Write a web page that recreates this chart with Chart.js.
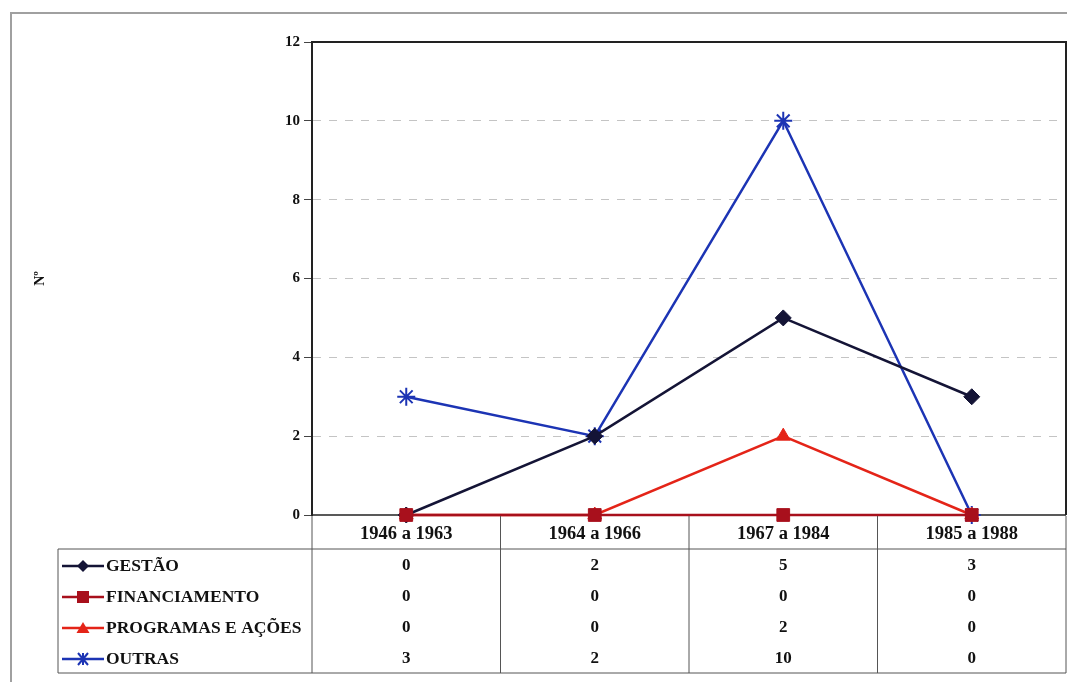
<!DOCTYPE html>
<html>
<head>
<meta charset="utf-8">
<script src="https://cdn.jsdelivr.net/npm/chart.js@4/dist/chart.umd.min.js"></script>
<style>
  html, body { margin: 0; padding: 0; background: #fff; }
  #chart { display: block; }
</style>
</head>
<body>
<canvas id="chart" width="1067" height="682"></canvas>
<script>
const periods = ['1946 a 1963', '1964 a 1966', '1967 a 1984', '1985 a 1988'];
const gestao = [0, 2, 5, 3];
const financiamento = [0, 0, 0, 0];
const programas = [0, 0, 2, 0];
const outras = [3, 2, 10, 0];
const yTicks = [0, 2, 4, 6, 8, 10, 12];

const seriesNames = ['GESTÃO', 'FINANCIAMENTO', 'PROGRAMAS E AÇÕES', 'OUTRAS'];
const seriesColors = ['#141436', '#a8101c', '#e42418', '#1c34b4'];
const seriesMarkers = ['rectRot', 'rect', 'triangle', 'star'];
const seriesValues = [gestao, financiamento, programas, outras];

const serif = '"Liberation Serif", "Times New Roman", serif';

function drawMarker(ctx, style, x, y, color) {
    ctx.save();
    ctx.fillStyle = color;
    ctx.strokeStyle = color;
    ctx.lineWidth = 2;
    ctx.beginPath();
    if (style === 'rectRot') {
        ctx.moveTo(x, y - 6); ctx.lineTo(x + 6, y); ctx.lineTo(x, y + 6); ctx.lineTo(x - 6, y);
        ctx.closePath(); ctx.fill();
    } else if (style === 'rect') {
        ctx.rect(x - 6, y - 6, 12, 12); ctx.fill();
    } else if (style === 'triangle') {
        ctx.moveTo(x, y - 6); ctx.lineTo(x + 6.5, y + 5); ctx.lineTo(x - 6.5, y + 5);
        ctx.closePath(); ctx.fill();
    } else {
        ctx.moveTo(x - 7, y); ctx.lineTo(x + 7, y);
        ctx.moveTo(x - 5, y - 6); ctx.lineTo(x + 5, y + 6);
        ctx.moveTo(x + 5, y - 6); ctx.lineTo(x - 5, y + 6);
        ctx.moveTo(x, y - 6); ctx.lineTo(x, y + 6);
        ctx.stroke();
    }
    ctx.restore();
}

// frame, plot border, y title and the data table under the plot
const tablePlugin = {
    id: 'tablePlugin',
    beforeDraw(chart) {
        const ctx = chart.ctx;
        ctx.save();
        ctx.fillStyle = '#fff';
        ctx.fillRect(0, 0, chart.width, chart.height);
        ctx.strokeStyle = '#a0a0a0';
        ctx.lineWidth = 2;
        ctx.beginPath();
        ctx.moveTo(11, 682); ctx.lineTo(11, 13); ctx.lineTo(1067, 13);
        ctx.stroke();
        ctx.restore();
    },
    beforeDatasetsDraw(chart) {
        const ctx = chart.ctx;
        const area = chart.chartArea;
        ctx.save();
        // plot border top/right/bottom
        ctx.strokeStyle = '#222';
        ctx.lineWidth = 2;
        ctx.beginPath();
        ctx.moveTo(area.left, area.top); ctx.lineTo(area.right, area.top);
        ctx.lineTo(area.right, area.bottom);
        ctx.stroke();
        ctx.lineWidth = 1.5;
        ctx.beginPath();
        ctx.moveTo(area.left, area.bottom); ctx.lineTo(area.right, area.bottom);
        ctx.stroke();
        ctx.restore();
    },
    afterDraw(chart) {
        const ctx = chart.ctx;
        const area = chart.chartArea;
        const x = chart.scales.x;
        const half = (x.getPixelForValue(1) - x.getPixelForValue(0)) / 2;

        ctx.save();
        // y title
        ctx.save();
        ctx.translate(40, (area.top + area.bottom) / 2);
        ctx.rotate(-Math.PI / 2);
        ctx.fillStyle = '#111';
        ctx.font = 'bold 14px ' + serif;
        ctx.textAlign = 'center';
        ctx.textBaseline = 'middle';
        ctx.fillText('Nº', 0, 0);
        ctx.restore();

        // table
        const headTop = area.bottom + 1;
        const headBottom = 549;
        const rowH = 31;
        const tableBottom = headBottom + rowH * seriesNames.length;
        const tableLeft = 58;

        ctx.strokeStyle = '#555';
        ctx.lineWidth = 1;
        ctx.beginPath();
        ctx.moveTo(area.left, headBottom); ctx.lineTo(area.right, headBottom);
        ctx.moveTo(tableLeft, headBottom); ctx.lineTo(area.left, headBottom);
        ctx.moveTo(tableLeft, tableBottom); ctx.lineTo(area.right, tableBottom);
        ctx.moveTo(tableLeft, headBottom); ctx.lineTo(tableLeft, tableBottom);
        ctx.moveTo(area.left, headTop); ctx.lineTo(area.left, tableBottom);
        for (let i = 0; i < periods.length; i++) {
            const bx = x.getPixelForValue(i) + half;
            ctx.moveTo(bx, headTop); ctx.lineTo(bx, tableBottom);
        }
        ctx.stroke();

        ctx.fillStyle = '#111';
        ctx.textAlign = 'center';
        ctx.textBaseline = 'middle';
        ctx.font = 'bold 18.5px ' + serif;
        periods.forEach((p, i) => {
            ctx.fillText(p, x.getPixelForValue(i), (headTop + headBottom) / 2 + 2);
        });

        seriesNames.forEach((name, r) => {
            const cy = headBottom + rowH * r + rowH / 2 + 1.5;
            ctx.save();
            ctx.strokeStyle = seriesColors[r];
            ctx.lineWidth = 2.5;
            ctx.beginPath();
            ctx.moveTo(62, cy); ctx.lineTo(104, cy);
            ctx.stroke();
            ctx.restore();
            drawMarker(ctx, seriesMarkers[r], 83, cy, seriesColors[r]);

            ctx.fillStyle = '#111';
            ctx.textAlign = 'left';
            ctx.font = 'bold 17.5px ' + serif;
            ctx.fillText(name, 106, cy);

            ctx.textAlign = 'center';
            ctx.font = 'bold 17px ' + serif;
            seriesValues[r].forEach((v, i) => {
                ctx.fillText(String(v), x.getPixelForValue(i), cy);
            });
        });
        ctx.restore();
    }
};

const ctx = document.getElementById('chart').getContext('2d');
window.myChart = new Chart(ctx, {
    type: 'line',
    data: {
        labels: periods,
        datasets: seriesNames.map((name, i) => ({
            label: name,
            data: seriesValues[i],
            borderColor: seriesColors[i],
            backgroundColor: seriesColors[i],
            pointBackgroundColor: seriesColors[i],
            pointBorderColor: seriesColors[i],
            pointStyle: seriesMarkers[i],
            pointRadius: [8, 9, 8, 9][i],
            pointBorderWidth: i === 3 ? 2 : 1,
            borderWidth: 2.5,
            tension: 0,
            clip: false,
            order: [1, 0, 2, 3][i]
        }))
    },
    options: {
        responsive: false,
        animation: false,
        devicePixelRatio: 1,
        layout: { autoPadding: false, padding: { left: 0, top: 42, right: 1, bottom: 167 } },
        plugins: {
            legend: { display: false },
            tooltip: { enabled: false }
        },
        scales: {
            x: {
                display: false,
                offset: true
            },
            y: {
                min: 0,
                max: 12,
                afterFit(scale) { scale.width = 312; },
                afterBuildTicks(scale) { scale.ticks = yTicks.map(v => ({ value: v })); },
                ticks: {
                    color: '#111',
                    padding: 4,
                    font: { family: serif, size: 15, weight: 'bold' }
                },
                grid: {
                    color: c => (c.tick && (c.tick.value === 0 || c.tick.value === 12)) ? 'rgba(0,0,0,0)' : '#c4c4c4',
                    lineWidth: 1,
                    tickColor: '#444',
                    tickLength: 8
                },
                border: { display: true, color: '#222', width: 2, dash: [8, 8] }
            }
        }
    },
    plugins: [tablePlugin]
});
</script>
</body>
</html>
